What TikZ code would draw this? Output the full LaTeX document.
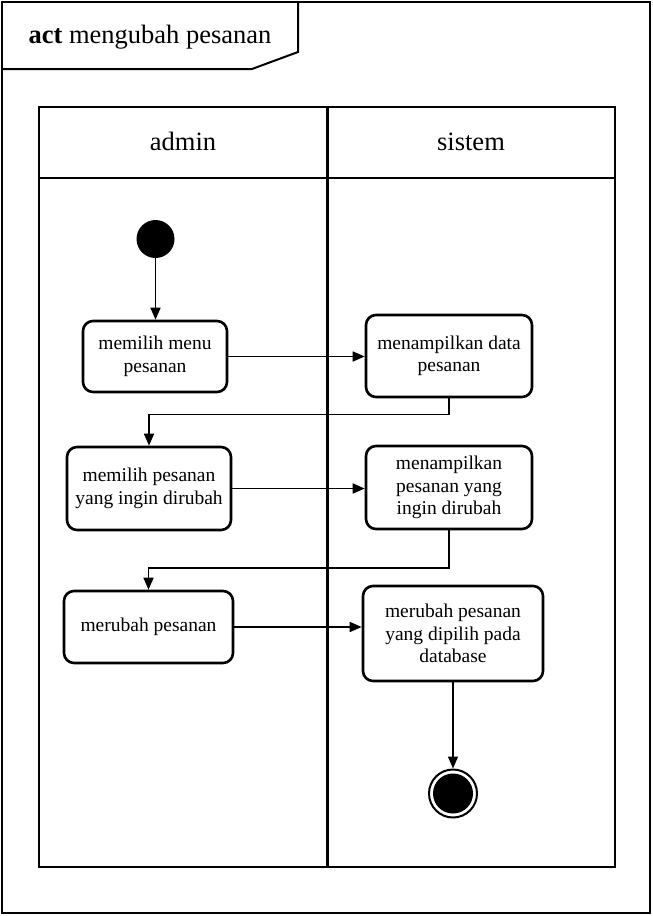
\documentclass[tikz,border=0pt]{standalone}
\usepackage{fontspec}
\setmainfont{Liberation Serif}
\usetikzlibrary{arrows.meta}
\begin{document}
\begin{tikzpicture}[x=1pt,y=-1pt,
  act/.style={draw,line width=2.6pt,rounded corners=10pt,align=center,
    font=\fontsize{19.5}{22.5}\selectfont,inner sep=0pt},
  flow/.style={line width=1.6pt,-{Triangle[length=12pt,width=10pt]}},
  lane/.style={draw,line width=2.8pt},
  frame/.style={draw,line width=2pt},
  big/.style={font=\fontsize{26.5}{30}\selectfont,inner sep=0pt}]
\useasboundingbox (0,0) rectangle (653,916);
% outer frame and title tab
\draw[frame] (2,2) rectangle (650,913);
\draw[frame] (2,69) -- (252,69) -- (298,52) -- (298,2);
\node[big,anchor=base] (title) at (150,43.5) {\textbf{act} mengubah pesanan};
% swimlanes
\draw[lane] (39,107) rectangle (327.5,867);
\draw[lane] (327.5,107) rectangle (615,867);
\draw[lane] (39,178) -- (615,178);
\node[big,anchor=base] (ladmin) at (183,150) {admin};
\node[big,anchor=base] (lsistem) at (471,150) {sistem};
% start / end
\node[circle,fill,minimum size=38pt,inner sep=0pt] (start) at (155.5,239) {};
\node[circle,draw,line width=2pt,minimum size=48pt,inner sep=0pt] (end) at (453,793.5) {};
\node[circle,fill,minimum size=40pt,inner sep=0pt] (endin) at (453,793.5) {};
% actions
\node[act,minimum width=144pt,minimum height=71pt] (n1) at (155,356.5) {memilih menu\\pesanan};
\node[act,minimum width=166pt,minimum height=82pt] (n2) at (449,356) {menampilkan data\\pesanan};
\node[act,minimum width=164pt,minimum height=83pt] (n3) at (149,488.5) {memilih pesanan\\yang ingin dirubah};
\node[act,minimum width=166pt,minimum height=83pt] (n4) at (449,487.5) {menampilkan\\pesanan yang\\ingin dirubah};
\node[act,minimum width=169pt,minimum height=72pt] (n5) at (148.5,627) {merubah pesanan};
\node[act,minimum width=180pt,minimum height=95pt] (n6) at (453,633.5) {merubah pesanan\\yang dipilih pada\\database};
% flows
\draw[flow] (start.south) -- (start.south |- n1.north);
\draw[flow] (n1.east) -- (n1.east -| n2.west);
\draw[flow] (n2.south) -- ++(0,16) -| (n3.north);
\draw[flow] (n3.east) -- (n3.east -| n4.west);
\draw[flow] (n4.south) -- ++(0,37.5) -| (n5.north);
\draw[flow] (n5.east) -- (n5.east -| n6.west);
\draw[flow] (n6.south) -- (end.north);
\end{tikzpicture}
\end{document}
